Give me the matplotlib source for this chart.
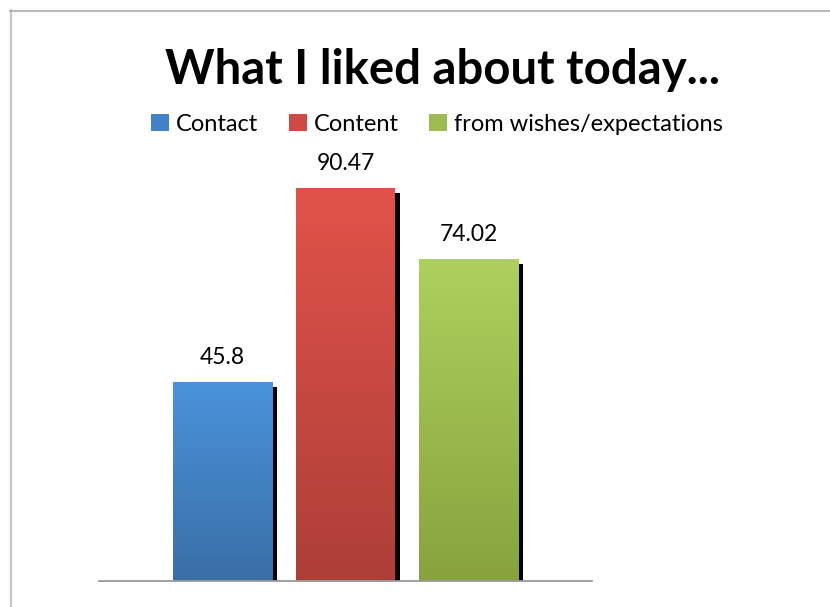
import numpy as np
import matplotlib
matplotlib.use("Agg")
import matplotlib.pyplot as plt
from matplotlib.colors import LinearSegmentedColormap
from matplotlib.patches import Patch
import matplotlib.transforms as mtransforms

title = "What I liked about today..."
series = ["Contact", "Content", "from wishes/expectations"]
values = [45.8, 90.47, 74.02]
labels = ["45.8", "90.47", "74.02"]
top_colors = ["#4a93dc", "#e1534a", "#aed05d"]
bottom_colors = ["#3a6fa6", "#ad3f38", "#88a33e"]
legend_colors = ["#4282c8", "#cf4a42", "#9dbb4f"]

plt.rcParams['font.family'] = ['Lato', 'DejaVu Sans']

W, H = 830, 607
fig = plt.figure(figsize=(W / 100, H / 100), dpi=100)
fig.patch.set_facecolor("white")

# figure border
fig.add_artist(plt.Line2D([10.5 / W, 10.5 / W], [0, 1 - 10 / H], transform=fig.transFigure,
                          color="#c8c8c8", lw=1.6))
fig.add_artist(plt.Line2D([10 / W, 1], [1 - 10.5 / H, 1 - 10.5 / H], transform=fig.transFigure,
                          color="#aaaaaa", lw=1.2))

ax_left, ax_right = 99 / W, 592 / W
ax_bottom = (H - 581) / H
ax_top = (H - 146.5) / H
ax = fig.add_axes([ax_left, ax_bottom, ax_right - ax_left, ax_top - ax_bottom])
ax.set_xlim(0, 493)
ax.set_ylim(0, 100)
ax.axis("off")

bar_w = 99
centers = [123.5, 246.5, 369.5]

shadow_tr = mtransforms.offset_copy(ax.transData, fig=fig, x=5 / 100, y=-5 / 100, units="inches")
for i, (c, v) in enumerate(zip(centers, values)):
    ax.bar(c, v, width=bar_w, color="black", transform=shadow_tr, zorder=1)
    bar = ax.bar(c, v, width=bar_w, color="none", zorder=2)[0]
    cmap = LinearSegmentedColormap.from_list("g%d" % i, [bottom_colors[i], top_colors[i]])
    grad = np.linspace(0, 1, 256).reshape(-1, 1)
    im = ax.imshow(grad, cmap=cmap, aspect="auto", origin="lower",
                   extent=(c - bar_w / 2, c + bar_w / 2, 0, v), zorder=3)
    im.set_clip_path(bar)
    ax.text(c, v + 3.3, labels[i], ha="center", va="bottom", fontsize=16.5, color="black")

ax.set_xlim(0, 493)
ax.set_ylim(0, 100)
ax.plot([0, 493], [0, 0], color="#999999", lw=1.3, zorder=4, clip_on=False)

fig.text(442 / W, 1 - 70 / H, title, ha="center", va="center", fontsize=34, fontweight="bold")

handles = [Patch(facecolor=col, edgecolor="none") for col in legend_colors]
fig.legend(handles, series, loc="center", bbox_to_anchor=(437 / W, 1 - 124 / H), ncol=3,
           frameon=False, fontsize=17, handlelength=0.75, handleheight=0.75,
           handletextpad=0.3, columnspacing=1.3, borderaxespad=0)

fig.savefig("out.png", dpi=100)
